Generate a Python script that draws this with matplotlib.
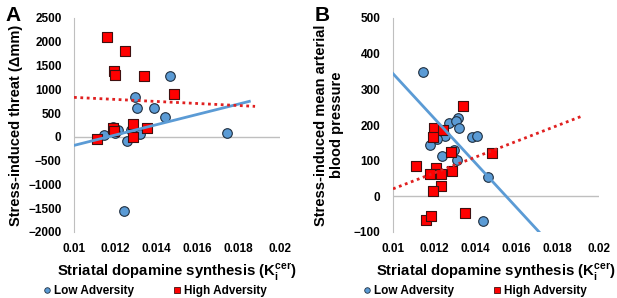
from matplotlib import pyplot as plt
from matplotlib.lines import Line2D
import numpy as np

plt.rcParams['font.family'] = ['Liberation Sans', 'DejaVu Sans']
plt.rcParams['font.weight'] = 'bold'
plt.rcParams['axes.labelweight'] = 'bold'
plt.rcParams['mathtext.fontset'] = 'custom'
plt.rcParams['mathtext.rm'] = 'Liberation Sans'
plt.rcParams['mathtext.bf'] = 'Liberation Sans:bold'

# panel A: stress-induced threat
a_low_x = [0.01466, 0.01296, 0.01304, 0.01387, 0.01443, 0.01188, 0.01215, 0.01146,
           0.01275, 0.01256, 0.0132, 0.01197, 0.01243, 0.01743]
a_low_y = [1280, 831, 606, 600, 410, 207, 150, 45, 150, -80, 66, 80, -1560, 80]
a_high_x = [0.01162, 0.01249, 0.01194, 0.01197, 0.0134, 0.01485, 0.01288, 0.01353,
            0.01191, 0.01195, 0.01288, 0.01113]
a_high_y = [2100, 1799, 1378, 1308, 1287, 894, 263, 185, 180, 130, 0, -50]
a_low_fit = (108800, -179)    # slope, value at x=0.01
a_high_fit = (-21500, 831)
a_low_end, a_high_end = 0.01851, 0.01879

# panel B: stress-induced mean arterial blood pressure
b_low_x = [0.01146, 0.01272, 0.01316, 0.01304, 0.01319, 0.01251, 0.01214, 0.01181,
           0.01294, 0.01385, 0.01409, 0.01239, 0.01312, 0.01461, 0.01437]
b_low_y = [348, 207, 220, 210, 192, 170, 161, 143, 131, 165, 168, 112, 103, 53, -68]
b_high_x = [0.0134, 0.01197, 0.01243, 0.01194, 0.01482, 0.01283, 0.0111, 0.0121,
            0.01178, 0.01235, 0.01288, 0.01235, 0.01194, 0.01162, 0.01186, 0.01348]
b_high_y = [254, 192, 187, 166, 121, 123, 86, 79, 64, 64, 72, 30, 14, -65, -56, -47]
b_low_fit = (-62600, 344)
b_high_fit = (22230, 21)
b_low_end, b_high_end = 0.0171, 0.0192

blue = '#5B9BD5'
red = '#FF0000'
xticks = [0.01, 0.012, 0.014, 0.016, 0.018, 0.02]
xlabel = r'Striatal dopamine synthesis (K$_{\mathbf{i}}^{\mathrm{cer}}$)'

fig = plt.figure(figsize=(6.17, 2.98), dpi=100)
ax0 = fig.add_axes([74/617, 1-232/298, 206/617, 214/298])
ax1 = fig.add_axes([393/617, 1-232/298, 206/617, 214/298])


def draw(ax, lx, ly, hx, hy, lfit, hfit, lend, hend, ylim, yticks):
    ax.axhline(0, color='#BFBFBF', lw=1, zorder=1)
    ax.scatter(lx, ly, s=48, c=blue, edgecolors='#1F2F40', linewidths=0.8, zorder=3)
    ax.scatter(hx, hy, s=48, marker='s', c=red, edgecolors='#401010', linewidths=0.8, zorder=3)
    xs = np.array([0.01, lend])
    ax.plot(xs, lfit[1] + lfit[0]*(xs-0.01), color=blue, lw=2, zorder=4)
    xs = np.array([0.01, hend])
    ax.plot(xs, hfit[1] + hfit[0]*(xs-0.01), color='#E02020', lw=2, ls=(0, (1, 1.3)), zorder=4)
    ax.set_xlim(0.01, 0.02)
    ax.set_ylim(*ylim)
    ax.set_xticks(xticks)
    ax.set_xticklabels([str(t) for t in xticks])
    ax.set_yticks(yticks)
    ax.tick_params(axis='y', length=0, labelsize=8.5, pad=9)
    ax.tick_params(axis='x', length=0, labelsize=8.5, pad=8)
    for s in ['top', 'right', 'bottom']:
        ax.spines[s].set_visible(False)
    ax.spines['left'].set_color('#BFBFBF')
    ax.set_xlabel(xlabel, fontsize=10.7, labelpad=5)


draw(ax0, a_low_x, a_low_y, a_high_x, a_high_y, a_low_fit, a_high_fit,
     a_low_end, a_high_end, (-2000, 2500), range(-2000, 2501, 500))
draw(ax1, b_low_x, b_low_y, b_high_x, b_high_y, b_low_fit, b_high_fit,
     b_low_end, b_high_end, (-100, 500), range(-100, 501, 100))

ax0.set_ylabel('Stress-induced threat (Δmm)', fontsize=10.5, labelpad=4)
ax1.set_ylabel('Stress-induced mean arterial\nblood pressure', fontsize=10.5,
               labelpad=7, linespacing=1.15)

fig.text(5/617, 1-6/298, 'A', fontsize=15, fontweight='bold', va='top')
fig.text(315/617, 1-6/298, 'B', fontsize=15, fontweight='bold', va='top')

handles = [Line2D([], [], ls='', marker='o', ms=4, mfc=blue, mec='#1F2F40', mew=0.6),
           Line2D([], [], ls='', marker='s', ms=4, mfc=red, mec='#401010', mew=0.6)]
for ax, cx in [(ax0, 154/617), (ax1, 474/617)]:
    ax.legend(handles, ['Low Adversity', 'High Adversity'], loc='center',
              bbox_to_anchor=(cx, 1-291/298), bbox_transform=fig.transFigure,
              ncol=2, frameon=False, fontsize=8.5, handletextpad=0.1,
              columnspacing=3.1, handlelength=1, borderpad=0)

plt.savefig("out.png")
